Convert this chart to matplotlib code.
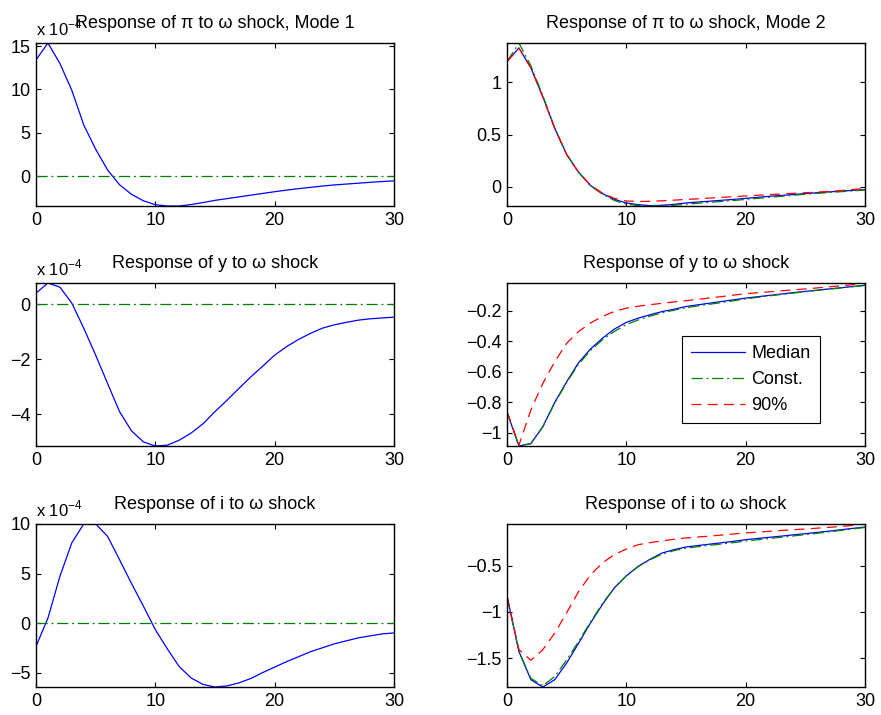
import matplotlib
matplotlib.use("Agg")
import matplotlib.pyplot as plt
from matplotlib.ticker import FuncFormatter

plt.rcParams['font.family'] = ['Liberation Sans', 'DejaVu Sans']
plt.rcParams['mathtext.fontset'] = 'custom'
plt.rcParams['mathtext.rm'] = 'Liberation Sans'
plt.rcParams['axes.unicode_minus'] = True

# horizon
t = list(range(31))

# Mode 1 responses (in units of 1e-4), constant-parameter line is zero
pi_mode1 = [13.4, 15.35, 13.0, 9.9, 5.9, 3.1, 0.7, -1.0, -2.1, -2.85, -3.3, -3.45, -3.45,
            -3.28, -3.05, -2.8, -2.6, -2.4, -2.2, -2.0, -1.8, -1.62, -1.45, -1.3, -1.15,
            -1.02, -0.92, -0.82, -0.72, -0.63, -0.55]
y_mode1 = [0.40, 0.77, 0.62, 0.04, -0.87, -1.85, -2.88, -3.9, -4.6, -5.0, -5.15, -5.12, -4.94,
           -4.68, -4.34, -3.9, -3.49, -3.06, -2.64, -2.25, -1.85, -1.54, -1.28, -1.06, -0.87,
           -0.75, -0.66, -0.58, -0.53, -0.50, -0.47]
i_mode1 = [-2.36, 0.5, 4.7, 8.1, 10.0, 10.0, 8.75, 6.4, 4.0, 1.7, -0.67, -2.6, -4.4, -5.55,
           -6.2, -6.46, -6.35, -6.05, -5.6, -5.0, -4.45, -3.9, -3.4, -2.9, -2.5, -2.1, -1.8,
           -1.5, -1.3, -1.1, -1.0]
const_mode1 = [0.0] * 31

# Mode 2 responses
pi_med = [1.20, 1.33, 1.14, 0.865, 0.56, 0.31, 0.14, 0.013, -0.064, -0.12, -0.154, -0.17,
          -0.18, -0.176, -0.167, -0.154, -0.145, -0.137, -0.128, -0.12, -0.11, -0.10, -0.09,
          -0.082, -0.073, -0.064, -0.056, -0.048, -0.040, -0.033, -0.026]
pi_const = [1.20, 1.378, 1.16, 0.875, 0.565, 0.31, 0.14, 0.01, -0.07, -0.13, -0.165, -0.178,
            -0.183, -0.182, -0.176, -0.166, -0.157, -0.148, -0.139, -0.13, -0.12, -0.11, -0.10,
            -0.09, -0.08, -0.07, -0.062, -0.054, -0.046, -0.038, -0.03]
pi_90 = [1.20, 1.33, 1.14, 0.86, 0.56, 0.31, 0.14, 0.015, -0.06, -0.11, -0.135, -0.14, -0.138,
         -0.133, -0.127, -0.12, -0.114, -0.107, -0.1, -0.094, -0.087, -0.08, -0.074, -0.068,
         -0.062, -0.056, -0.05, -0.043, -0.035, -0.025, -0.016]

y_med = [-0.862, -1.086, -1.07, -0.96, -0.80, -0.665, -0.54, -0.45, -0.38, -0.32, -0.276,
         -0.248, -0.226, -0.205, -0.19, -0.172, -0.161, -0.15, -0.139, -0.128, -0.117, -0.108,
         -0.099, -0.090, -0.081, -0.073, -0.065, -0.057, -0.049, -0.041, -0.033]
y_const = [-0.862, -1.086, -1.07, -0.96, -0.805, -0.67, -0.55, -0.46, -0.39, -0.335, -0.29,
           -0.26, -0.235, -0.213, -0.196, -0.18, -0.168, -0.157, -0.146, -0.134, -0.122, -0.112,
           -0.102, -0.093, -0.084, -0.075, -0.066, -0.058, -0.05, -0.042, -0.034]
y_90 = [-0.862, -1.08, -0.85, -0.676, -0.534, -0.413, -0.336, -0.28, -0.237, -0.204, -0.183,
        -0.17, -0.16, -0.151, -0.142, -0.134, -0.125, -0.116, -0.107, -0.097, -0.088, -0.082,
        -0.076, -0.069, -0.063, -0.057, -0.05, -0.043, -0.036, -0.029, -0.018]

i_med = [-0.83, -1.43, -1.735, -1.814, -1.735, -1.554, -1.34, -1.12, -0.92, -0.74, -0.61,
         -0.507, -0.43, -0.363, -0.327, -0.298, -0.282, -0.267, -0.252, -0.236, -0.219, -0.206,
         -0.193, -0.180, -0.167, -0.154, -0.140, -0.126, -0.111, -0.096, -0.082]
i_const = [-0.83, -1.43, -1.72, -1.80, -1.70, -1.52, -1.32, -1.11, -0.91, -0.74, -0.61, -0.51,
           -0.435, -0.375, -0.337, -0.31, -0.295, -0.28, -0.265, -0.25, -0.233, -0.22, -0.206,
           -0.192, -0.178, -0.164, -0.15, -0.134, -0.118, -0.102, -0.086]
i_90 = [-0.83, -1.41, -1.525, -1.41, -1.23, -1.01, -0.78, -0.6, -0.47, -0.38, -0.32, -0.273,
        -0.25, -0.232, -0.215, -0.2, -0.19, -0.18, -0.168, -0.157, -0.146, -0.137, -0.128,
        -0.119, -0.111, -0.103, -0.094, -0.085, -0.075, -0.063, -0.049]

titles_left = ['Response of \u03c0 to \u03c9 shock, Mode 1', 'Response of y to \u03c9 shock',
               'Response of i to \u03c9 shock']
titles_right = ['Response of \u03c0 to \u03c9 shock, Mode 2', 'Response of y to \u03c9 shock',
                'Response of i to \u03c9 shock']
yticks_left = [[0, 5, 10, 15], [-4, -2, 0], [-5, 0, 5, 10]]
yticks_right = [[0, 0.5, 1], [-1, -0.8, -0.6, -0.4, -0.2], [-1.5, -1, -0.5]]
xticks = [0, 10, 20, 30]

BLUE = '#0000ff'
GREEN = '#008000'
RED = '#ff0000'
FS = 13


def fmt(v, pos):
    s = '%g' % v
    return s.replace('-', '\u2212')


def style(ax, yt, lo, hi):
    ax.set_xlim(0, 30)
    ax.set_ylim(lo, hi)
    ax.set_xticks(xticks)
    ax.set_yticks(yt)
    ax.yaxis.set_major_formatter(FuncFormatter(fmt))
    ax.tick_params(direction='in', top=True, right=True, length=3.5, width=0.8,
                   labelsize=FS, pad=4)
    for sp in ax.spines.values():
        sp.set_linewidth(1.0)


W, H = 881, 715
fig = plt.figure(figsize=(W / 100, H / 100), dpi=100)

lefts = [36, 507]
tops = [43, 283, 524]
aw, ah = 358, 163

left_series = [pi_mode1, y_mode1, i_mode1]
right_series = [(pi_med, pi_const, pi_90), (y_med, y_const, y_90), (i_med, i_const, i_90)]

for r in range(3):
    bottom = (H - tops[r] - ah) / H
    # left column: Mode 1
    ax = fig.add_axes([lefts[0] / W, bottom, aw / W, ah / H])
    s = left_series[r]
    ax.plot(t, s, color=BLUE, lw=0.9)
    ax.plot(t, const_mode1, color=GREEN, lw=0.9, dashes=(9, 3, 1.5, 3))
    style(ax, yticks_left[r], min(s), max(s))
    ax.set_title(titles_left[r], fontsize=FS, pad=11)
    ax.text(0, 1.03, 'x 10$^{\\mathrm{\u22124}}$', transform=ax.transAxes,
            fontsize=FS - 1, ha='left', va='bottom')

    # right column: Mode 2
    ax = fig.add_axes([lefts[1] / W, bottom, aw / W, ah / H])
    med, con, p90 = right_series[r]
    ax.plot(t, med, color=BLUE, lw=0.9, label='Median')
    ax.plot(t, con, color=GREEN, lw=0.9, dashes=(9, 3, 1.5, 3), label='Const.')
    ax.plot(t, p90, color=RED, lw=0.9, dashes=(8, 5), label='90%')
    allv = med + con + p90
    style(ax, yticks_right[r], min(allv), max(allv))
    ax.set_title(titles_right[r], fontsize=FS, pad=11)
    if r == 1:
        leg = ax.legend(loc='lower right', bbox_to_anchor=(0.874, 0.14), fontsize=FS,
                        fancybox=False, framealpha=1, edgecolor='black', borderaxespad=0,
                        handlelength=3.0, handletextpad=0.35, labelspacing=0.5,
                        borderpad=0.5)
        leg.get_frame().set_linewidth(0.8)

fig.savefig('out.png', dpi=100)
